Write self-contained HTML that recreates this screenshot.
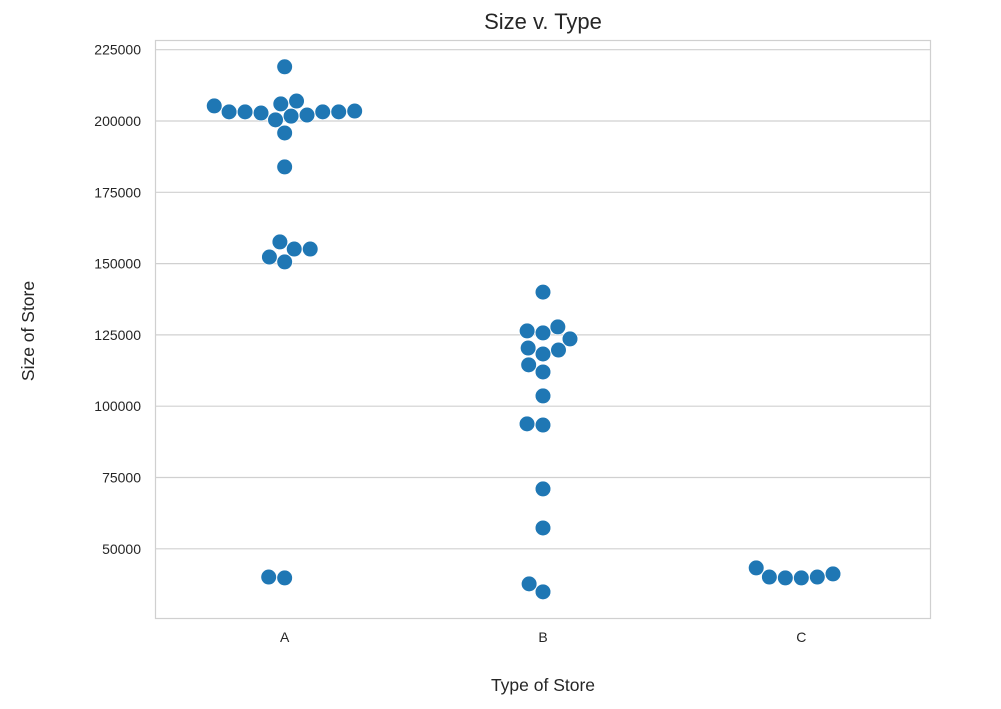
<!DOCTYPE html>
<html><head><meta charset="utf-8"><style>
body{margin:0;background:#fff;font-family:"Liberation Sans",sans-serif}
</style></head><body>
<svg id="chart" width="1001" height="704" xmlns="http://www.w3.org/2000/svg" font-family="Liberation Sans, sans-serif">
<text x="543" y="29" text-anchor="middle" font-size="22" fill="#262626">Size v. Type</text>
<text x="543" y="691" text-anchor="middle" font-size="17.5" fill="#262626">Type of Store</text>
<text transform="translate(34,331) rotate(-90)" text-anchor="middle" font-size="17.5" fill="#262626">Size of Store</text>
<g id="grid"></g><g id="ticks"></g><g id="marks"></g>
<rect x="155.5" y="40.5" width="775" height="578" fill="none" stroke="#d0d0d0" stroke-width="1.2"/>
</svg>
<script>
const categories = ["A","B","C"];
const valuesA = [219000,207000,206000,205300,203200,203200,202800,202100,201700,203200,203200,203500,200400,195800,183900,157600,155100,155100,152300,150600,40100,39800];
const valuesB = [140000,127800,126400,123600,125700,120400,118300,119700,114500,112000,103600,93800,93400,71000,57300,37700,34900];
const valuesC = [43300,40100,39800,39800,40100,41200];
const yTicks = [50000,75000,100000,125000,150000,175000,200000,225000];
const series = [valuesA, valuesB, valuesC];
const NS="http://www.w3.org/2000/svg";
const L=155.5,R=930.5,T=40.5,B=618.5;
function y(v){return 121+(200000-v)/25000*71.3;}
function x(i){return L+(R-L)/categories.length*(i+0.5);}
const grid=document.getElementById('grid'),ticks=document.getElementById('ticks'),marks=document.getElementById('marks');
yTicks.forEach(t=>{
  const ln=document.createElementNS(NS,'line');
  ln.setAttribute('x1',L);ln.setAttribute('x2',R);ln.setAttribute('y1',y(t));ln.setAttribute('y2',y(t));
  ln.setAttribute('stroke','#d0d0d0');ln.setAttribute('stroke-width','1.2');
  
  
  grid.appendChild(ln);
  const tx=document.createElementNS(NS,'text');
  tx.setAttribute('x',141);tx.setAttribute('y',y(t)+5);tx.setAttribute('text-anchor','end');
  tx.setAttribute('font-size','14');tx.setAttribute('fill','#262626');tx.textContent=t;
  
  
  ticks.appendChild(tx);
});
categories.forEach((c,i)=>{
  const tx=document.createElementNS(NS,'text');
  tx.setAttribute('x',x(i));tx.setAttribute('y',642);tx.setAttribute('text-anchor','middle');
  tx.setAttribute('font-size','14');tx.setAttribute('fill','#262626');tx.textContent=c;
  
  
  ticks.appendChild(tx);
});
const D=16;
series.forEach((vals,i)=>{
  const pts=vals.map(v=>({py:y(v)})).sort((a,b)=>b.py-a.py);
  const placed=[];
  pts.forEach(p=>{
    const near=placed.filter(q=>Math.abs(q.py-p.py)<D);
    const cands=[0];
    near.forEach(q=>{const dx=Math.sqrt(D*D-(q.py-p.py)**2);cands.push(q.ox+dx,q.ox-dx);});
    cands.sort((a,b)=>Math.abs(a)-Math.abs(b)||a-b);
    let ox=0;
    for(const c of cands){
      if(near.every(q=>(q.ox-c)**2+(q.py-p.py)**2>=D*D-0.01)){ox=c;break;}
    }
    p.ox=ox;placed.push(p);
  });
  placed.forEach(p=>{
    const c=document.createElementNS(NS,'circle');
    c.setAttribute('cx',x(i)+p.ox);c.setAttribute('cy',p.py);c.setAttribute('r',7.8);
    c.setAttribute('fill','#1f77b4');c.setAttribute('stroke','#fff');c.setAttribute('stroke-width','0.6');
    
    
    marks.appendChild(c);
  });
});
</script>
</body></html>
